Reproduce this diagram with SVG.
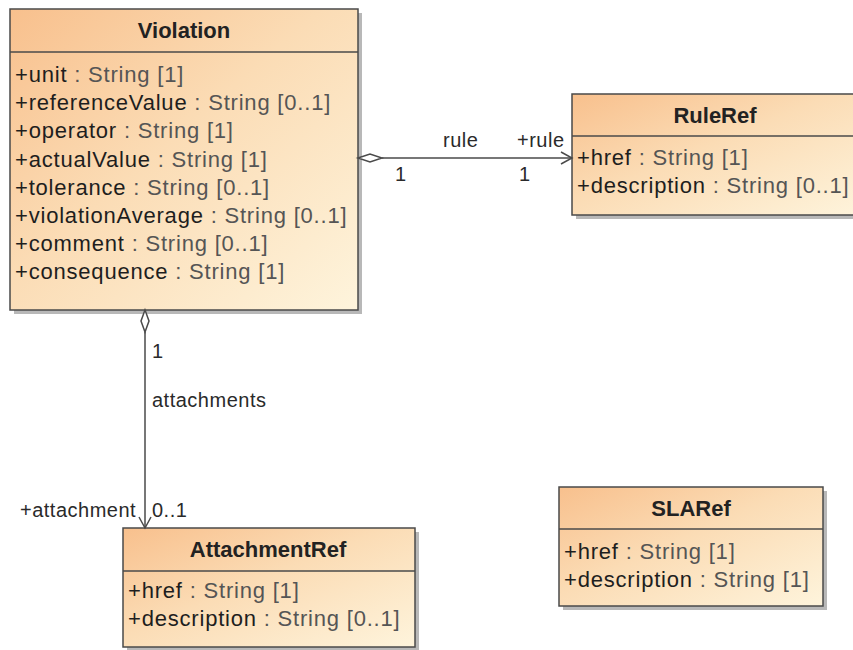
<svg xmlns="http://www.w3.org/2000/svg" width="853" height="650" viewBox="0 0 853 650">
<defs>
<linearGradient id="fill" x1="0" y1="0" x2="1" y2="1">
<stop offset="0" stop-color="#f8c08d"/>
<stop offset="0.45" stop-color="#fbdcb5"/>
<stop offset="1" stop-color="#fef4dc"/>
</linearGradient>
<style>
.box{fill:url(#fill);stroke:#4a4a4a;stroke-width:1.5}
.shadow{fill:#9a9a9a;opacity:0.7}
.div{stroke:#4a4a4a;stroke-width:1.5}
.title{font-family:"Liberation Sans",Arial,sans-serif;font-size:22px;font-weight:bold;fill:#222;text-anchor:middle}
.attr{font-family:"Liberation Sans",Arial,sans-serif;font-size:22px;letter-spacing:0.8px;fill:#1e1e1e}
.ty{fill:#555}
.lbl{font-family:"Liberation Sans",Arial,sans-serif;font-size:20px;letter-spacing:0.5px;fill:#2a2a2a}
.edge{stroke:#4a4a4a;stroke-width:1.5;fill:none}
.dia{stroke:#4a4a4a;stroke-width:1.5;fill:#fff}
</style>
</defs>
<rect width="853" height="650" fill="#fff"/>

<g id="Violation">
<rect class="shadow" x="14" y="13" width="348" height="301"/>
<rect class="box" x="10" y="9" width="348" height="301"/>
<line class="div" x1="10" y1="52" x2="358" y2="52"/>
<text class="title" x="184" y="38">Violation</text>
<text class="attr" x="15" y="82">+unit<tspan class="ty"> : String [1]</tspan></text>
<text class="attr" x="15" y="110">+referenceValue<tspan class="ty"> : String [0..1]</tspan></text>
<text class="attr" x="15" y="138">+operator<tspan class="ty"> : String [1]</tspan></text>
<text class="attr" x="15" y="167">+actualValue<tspan class="ty"> : String [1]</tspan></text>
<text class="attr" x="15" y="195">+tolerance<tspan class="ty"> : String [0..1]</tspan></text>
<text class="attr" x="15" y="223">+violationAverage<tspan class="ty"> : String [0..1]</tspan></text>
<text class="attr" x="15" y="251">+comment<tspan class="ty"> : String [0..1]</tspan></text>
<text class="attr" x="15" y="279">+consequence<tspan class="ty"> : String [1]</tspan></text>
</g>

<g id="RuleRef">
<rect class="shadow" x="576" y="98" width="290" height="121"/>
<rect class="box" x="572" y="94" width="290" height="121"/>
<line class="div" x1="572" y1="136" x2="862" y2="136"/>
<text class="title" x="715" y="123">RuleRef</text>
<text class="attr" x="577" y="165">+href<tspan class="ty"> : String [1]</tspan></text>
<text class="attr" x="577" y="193">+description<tspan class="ty"> : String [0..1]</tspan></text>
</g>

<g id="AttachmentRef">
<rect class="shadow" x="127" y="532" width="292" height="119"/>
<rect class="box" x="123" y="528" width="292" height="119"/>
<line class="div" x1="123" y1="571" x2="415" y2="571"/>
<text class="title" x="268" y="557">AttachmentRef</text>
<text class="attr" x="128" y="598">+href<tspan class="ty"> : String [1]</tspan></text>
<text class="attr" x="128" y="626">+description<tspan class="ty"> : String [0..1]</tspan></text>
</g>

<g id="SLARef">
<rect class="shadow" x="563" y="491" width="264" height="119"/>
<rect class="box" x="559" y="487" width="264" height="119"/>
<line class="div" x1="559" y1="529" x2="823" y2="529"/>
<text class="title" x="691" y="516">SLARef</text>
<text class="attr" x="564" y="559">+href<tspan class="ty"> : String [1]</tspan></text>
<text class="attr" x="564" y="587">+description<tspan class="ty"> : String [1]</tspan></text>
</g>

<g id="connectors">
<line class="edge" x1="382" y1="158" x2="572" y2="158"/>
<polygon class="dia" points="358,158 370,154 382,158 370,162"/>
<polyline class="edge" points="561,152 572,158 561,164"/>
<text class="lbl" x="443" y="147">rule</text>
<text class="lbl" x="517" y="147">+rule</text>
<text class="lbl" x="395" y="181">1</text>
<text class="lbl" x="519" y="181">1</text>

<line class="edge" x1="145" y1="332" x2="145" y2="528"/>
<polygon class="dia" points="145,310 149,321 145,332 141,321"/>
<polyline class="edge" points="139,517 145,528 151,517"/>
<text class="lbl" x="152" y="358">1</text>
<text class="lbl" x="152" y="407">attachments</text>
<text class="lbl" x="20" y="517">+attachment</text>
<text class="lbl" x="152" y="517">0..1</text>
</g>
</svg>
